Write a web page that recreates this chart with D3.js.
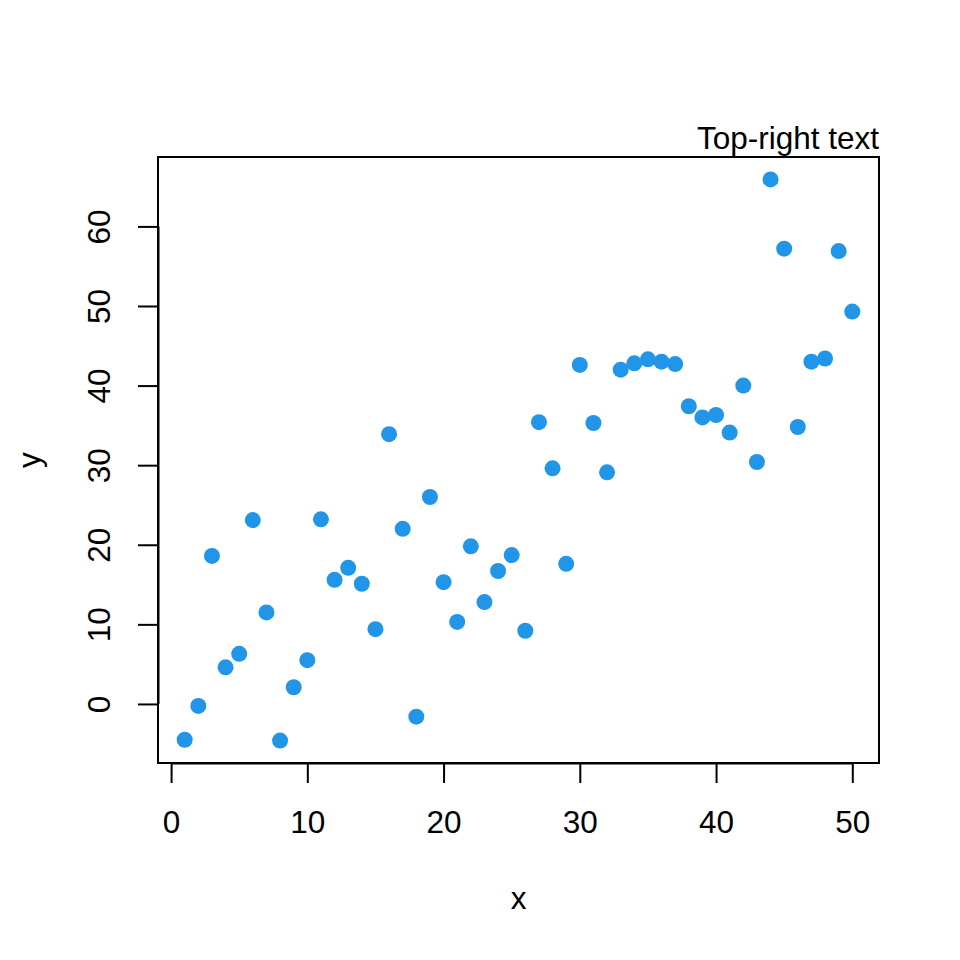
<!DOCTYPE html>
<html><head><meta charset="utf-8">
<script src="https://cdn.jsdelivr.net/npm/d3@7"></script>
<style>body{margin:0;background:#fff}text{font-family:"Liberation Sans",Arial,sans-serif;fill:#000}</style>
</head><body><svg id="c" width="960" height="960"></svg>
<script>
const xs = d3.range(1, 51);
const ys = [-4.5,-0.25,18.6,4.6,6.3,23.1,11.5,-4.6,2.1,5.5,
  23.2,15.6,17.1,15.1,9.4,33.9,22.0,-1.6,26.0,15.3,
  10.3,19.8,12.8,16.7,18.7,9.2,35.4,29.6,17.6,42.6,
  35.3,29.1,42.0,42.8,43.3,43.0,42.7,37.4,36.0,36.3,
  34.1,40.0,30.4,65.9,57.2,34.8,43.0,43.4,56.9,49.3];
const xTicks = [0,10,20,30,40,50];
const yTicks = [0,10,20,30,40,50,60];
const title = "Top-right text", xLabel = "x", yLabel = "y";

const L=158, R=879, T=157, B=763, fs=31.5;
const svg = d3.select("#c");
const pad = (e)=>{const s=(e[1]-e[0])*0.04;return [e[0]-s,e[1]+s];};
const x = d3.scaleLinear().domain(pad(d3.extent(xs))).range([L,R]);
const y = d3.scaleLinear().domain(pad(d3.extent(ys))).range([B,T]);

svg.append("g").attr("transform",`translate(0,${B})`)
  .call(d3.axisBottom(x).tickValues(xTicks).tickSize(20).tickPadding(0).tickFormat(d3.format("d")))
  .call(g=>{g.select(".domain").attr("d",`M${x(xTicks[0])},0.5H${x(xTicks[xTicks.length-1])}`).attr("stroke","#000").attr("stroke-width",2);
    g.selectAll(".tick line").attr("stroke","#000").attr("stroke-width",2);
    g.selectAll(".tick text").attr("font-size",fs).attr("font-family","Liberation Sans, Arial, sans-serif").attr("dy",null).attr("y",70).attr("fill","#000");});

svg.append("g").attr("transform",`translate(${L},0)`)
  .call(d3.axisLeft(y).tickValues(yTicks).tickSize(20).tickFormat(d3.format("d")))
  .call(g=>{g.select(".domain").attr("d",`M0.5,${y(yTicks[0])}V${y(yTicks[yTicks.length-1])}`).attr("stroke","#000").attr("stroke-width",2);
    g.selectAll(".tick line").attr("stroke","#000").attr("stroke-width",2);
    g.selectAll(".tick text").attr("font-size",fs).attr("font-family","Liberation Sans, Arial, sans-serif")
      .attr("x",null).attr("dy",null).attr("text-anchor","middle")
      .attr("transform","translate(-48,0) rotate(-90)").attr("fill","#000");});

svg.append("rect").attr("x",L).attr("y",T).attr("width",R-L).attr("height",B-T)
  .attr("fill","none").attr("stroke","#000").attr("stroke-width",2);

svg.append("g").selectAll("circle").data(xs).join("circle")
  .attr("cx",d=>x(d)).attr("cy",(d,i)=>y(ys[i])).attr("r",8).attr("fill","#2196E8");

svg.append("text").attr("x",R).attr("y",149).attr("text-anchor","end").attr("font-size",fs).text(title);
svg.append("text").attr("x",(L+R)/2).attr("y",909).attr("text-anchor","middle").attr("font-size",fs).text(xLabel);
svg.append("text").attr("transform",`translate(40,${(T+B)/2}) rotate(-90)`).attr("text-anchor","middle").attr("font-size",fs).text(yLabel);
</script></body></html>
